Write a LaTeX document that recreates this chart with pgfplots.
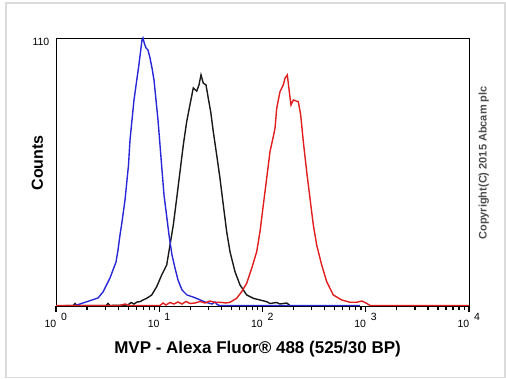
\documentclass[border=0pt]{standalone}
\usepackage{pgfplots}
\pgfplotsset{compat=1.18}
\usepackage{fontspec}
\setmainfont{Liberation Sans}
\definecolor{cblue}{RGB}{40,40,215}
\definecolor{cred}{RGB}{225,30,30}
\definecolor{cblack}{RGB}{25,25,25}
\newcommand{\dec}[1]{\llap{10}\hspace{5pt}\raisebox{7pt}{#1}}
\pgfplotstableread{
x y
1.53 0.2
1.708 0.82
1.953 1.64
2.232 2.46
2.552 3.28
2.853 5.75
3.119 9.03
3.334 11.49
3.565 14.78
3.813 18.06
3.986 22.99
4.168 29.14
4.357 34.48
4.660 43.51
4.872 51.72
5.038 57.87
5.209 68.13
5.446 76.34
5.694 84.55
6.020 91.94
6.295 97.69
6.582 104.25
6.806 109.18
6.960 110
7.197 107.54
7.441 105.9
7.780 105.08
8.135 101.79
8.507 97.69
8.895 92.76
9.301 84.55
9.725 76.34
10.17 66.08
10.63 55.82
11.12 45.56
11.76 37.35
12.43 29.14
13.29 20.93
14.21 15.60
15.19 10.67
16.61 6.57
18.57 4.51
21.23 3.69
23.73 2.87
27.74 1.64
32.43 0.82
34.7 1.64
36.5 0.5
38.76 0.2
879 0.2
}\datblue
\pgfplotstableread{
x y
1.222 0.2
1.461 0.2
1.528 1.03
1.597 0.2
3.050 0.2
3.189 1.03
3.334 0.2
4.982 0.41
5.325 1.44
5.694 0.82
6.088 1.64
6.510 1.76
6.960 2.46
7.556 3.16
8.449 4.51
9.448 7.92
10.56 12.72
11.81 16.83
12.71 25.03
13.68 33.24
14.76 44.21
15.89 55.16
17.10 66.12
18.45 75.70
19.86 82.70
21.37 89.54
23.05 88.17
24.27 90.77
25.37 94.87
26.71 91.45
28.36 90.77
29.86 85.21
31.50 79.73
33.38 71.52
36.01 61.96
38.76 52.37
41.73 41.42
45.01 30.47
48.44 22.27
54.17 14.07
60.54 8.62
70.31 4.51
81.46 3.16
94.58 2.46
109.8 1.76
118.2 1.03
137.3 1.44
147.7 0.82
171.6 1.23
184.6 0.2
}\datblack
\pgfplotstableread{
x y
1 0.2
4.168 0.2
4.660 0.82
5.209 0.2
10.17 0.2
10.87 1.23
11.62 0.41
12.71 1.44
13.90 0.82
15.19 1.64
16.61 0.82
18.16 1.85
19.86 1.03
22.19 1.23
24.81 1.85
27.74 1.23
31.01 2.05
34.67 1.44
38.76 1.53
44.32 1.23
48.44 1.53
56.25 3.16
62.87 5.87
70.31 9.30
78.60 15.46
87.87 22.31
94.58 30.50
101.8 41.46
109.8 52.41
118.2 63.36
127.2 69.51
132.2 72.96
137.3 81.17
147.7 87.97
159.0 90.73
165.2 93.47
173.9 94.83
181.8 87.97
188.8 82.49
198.8 84.55
222.3 83.85
234.4 78.39
248.5 67.43
268.0 55.11
288.4 44.17
310.5 33.24
334.9 25.03
374.5 16.83
418.7 9.97
485.1 4.51
584.9 2.46
704.0 1.53
817.4 1.53
913.8 2.05
1021 1.1
1100 0.2
10000 0.2
}\datred
\begin{document}
\begin{tikzpicture}
\path[use as bounding box] (0,0) rectangle (506pt,379pt);
\draw[line width=1.2pt, color=black!14] (6pt,1.5pt) rectangle (505pt,376pt);
\begin{axis}[
  at={(56pt,73pt)}, anchor=south west,
  scale only axis, width=413pt, height=268pt,
  xmode=log, xmin=1, xmax=10000, ymin=0, ymax=110,
  axis line style={line width=0.8pt, black},
  xtick={1,10,100,1000,10000},
  minor xtick={2,3,4,5,6,7,8,9,20,30,40,50,60,70,80,90,200,300,400,500,600,700,800,900,2000,3000,4000,5000,6000,7000,8000,9000},
  xticklabels={\dec{0},\dec{1},\dec{2},\dec{3},\dec{4}},
  tick align=outside,
  xtick pos=left, ytick pos=left,
  major tick length=6pt, minor tick length=4pt,
  xtick style={black, line width=1.3pt},
  xticklabel style={anchor=north west, inner sep=0pt, yshift=-1pt, font=\fontsize{10.5}{12}\selectfont},
  ytick={110}, yticklabels={110},
  ytick style={white, line width=0.1pt},
  yticklabel style={anchor=north east, inner sep=0pt, xshift=-0.5pt, font=\fontsize{10.5}{12}\selectfont},
  xlabel={MVP - Alexa Fluor® 488 (525/30 BP)},
  xlabel style={at={(axis description cs:0.488,-0.160)}, anchor=center, font=\fontsize{17}{20}\selectfont\bfseries},
  ylabel={Counts},
  ylabel style={at={(axis description cs:-0.045,0.534)}, anchor=center, font=\fontsize{16}{19}\selectfont\bfseries},
  clip=false,
]
\addplot[cblack, line width=1.4pt] table {\datblack};
\addplot[cblue, line width=1.4pt] table {\datblue};
\addplot[cred, line width=1.4pt] table {\datred};
\node[rotate=90, font=\fontsize{11}{13}\selectfont\bfseries, text=black!70] at (axis description cs:1.036,0.534) {Copyright(C) 2015 Abcam plc};
\end{axis}
\end{tikzpicture}
\end{document}
